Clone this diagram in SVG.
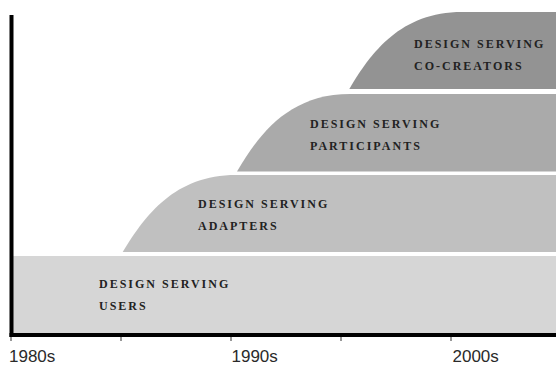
<svg xmlns="http://www.w3.org/2000/svg" width="556" height="365" viewBox="0 0 556 365">
  <style>
    .lbl { font-family: "Liberation Serif", "Times New Roman", serif; font-weight: bold; font-size: 12px; letter-spacing: 2px; fill: #222; }
    .ax { font-family: "Liberation Sans", Arial, sans-serif; font-size: 17px; fill: #2a2a2a; }
    .tick { stroke: #333; stroke-width: 1; }
  </style>
  <rect width="556" height="365" fill="#fff"/>
  <g id="users">
    <rect x="13" y="256" width="543" height="77" fill="#d6d6d6"/>
    <text class="lbl" x="99" y="288">DESIGN SERVING</text>
    <text class="lbl" x="99" y="310">USERS</text>
  </g>
  <g id="adapters">
    <path d="M122.7,252 C145,215 175,175 236,175 L556,175 L556,252 Z" fill="#c0c0c0"/>
    <text class="lbl" x="198" y="208">DESIGN SERVING</text>
    <text class="lbl" x="198" y="230">ADAPTERS</text>
  </g>
  <g id="participants">
    <path d="M237,171.5 C259,134 289,94 350,94 L556,94 L556,171.5 Z" fill="#aaaaaa"/>
    <text class="lbl" x="310" y="128">DESIGN SERVING</text>
    <text class="lbl" x="310" y="149.5">PARTICIPANTS</text>
  </g>
  <g id="co-creators">
    <path d="M349.3,89 C371,52 401,12 462,12 L556,12 L556,89 Z" fill="#939393"/>
    <text class="lbl" x="414" y="48">DESIGN SERVING</text>
    <text class="lbl" x="414" y="69.5">CO-CREATORS</text>
  </g>
  <g id="axes">
    <rect x="9.5" y="15" width="4" height="322" fill="#000"/>
    <rect x="9.5" y="333" width="546.5" height="4" fill="#000"/>
    <line class="tick" x1="11" y1="337" x2="11" y2="341"/>
    <line class="tick" x1="121" y1="337" x2="121" y2="341"/>
    <line class="tick" x1="231" y1="337" x2="231" y2="341"/>
    <line class="tick" x1="341" y1="337" x2="341" y2="341"/>
    <line class="tick" x1="451" y1="337" x2="451" y2="341"/>
    <text class="ax" x="9" y="361.5">1980s</text>
    <text class="ax" x="231.5" y="361.5">1990s</text>
    <text class="ax" x="452.5" y="361.5">2000s</text>
  </g>
</svg>
